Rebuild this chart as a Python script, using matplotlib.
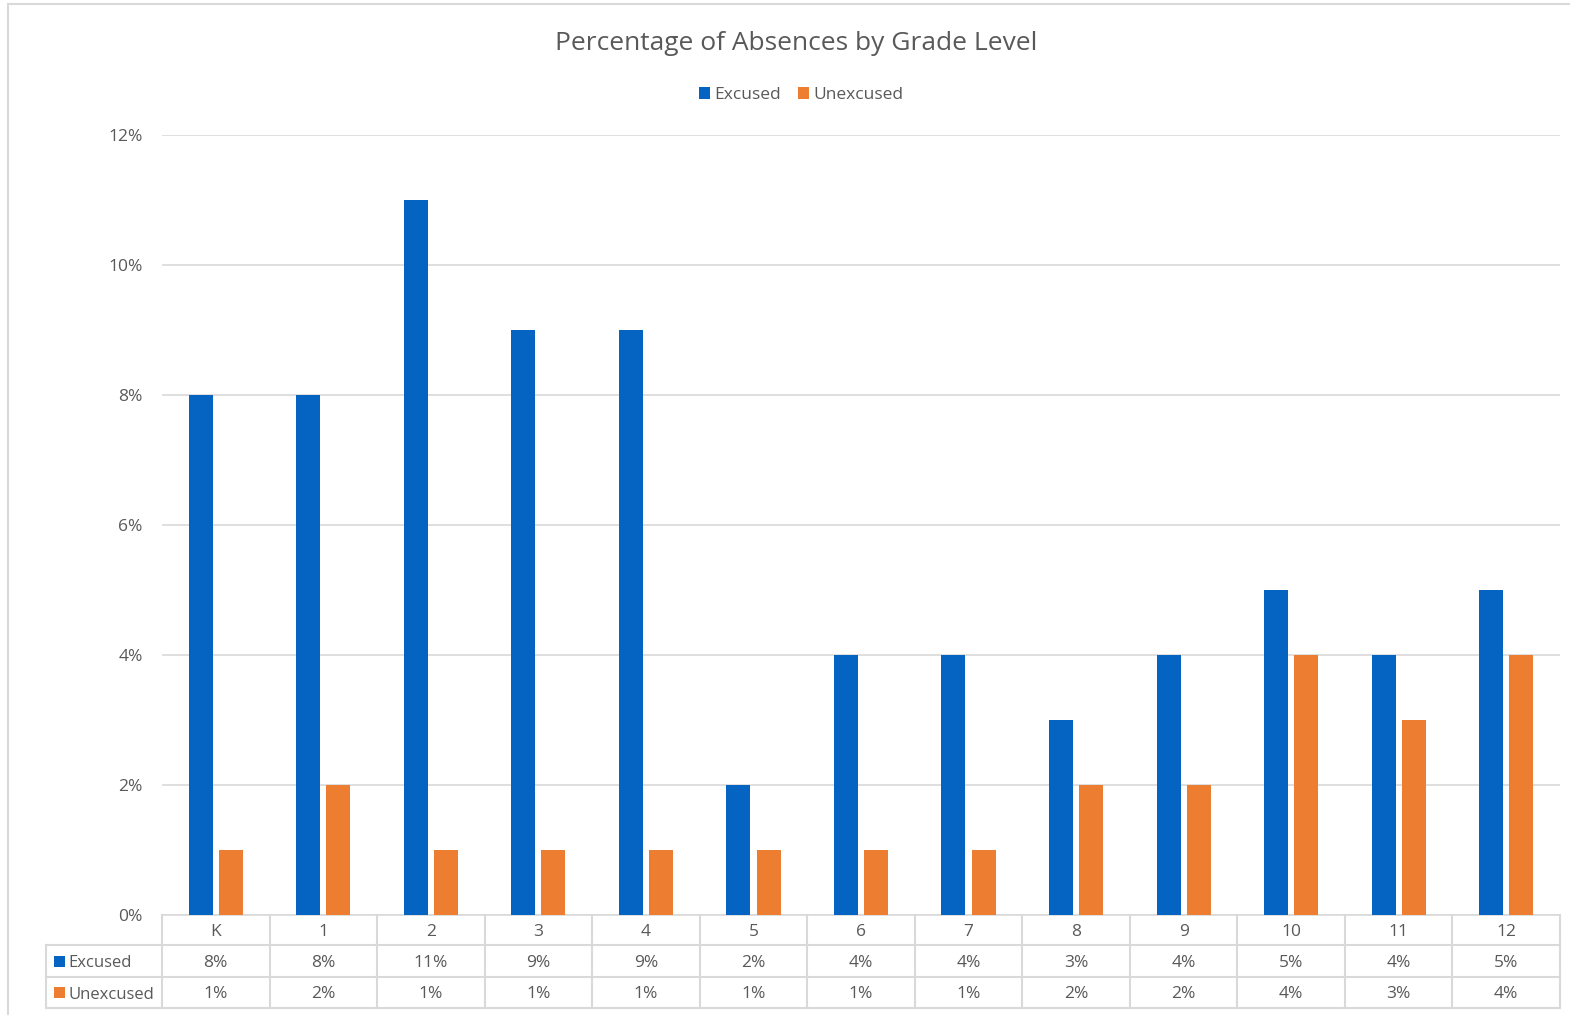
import matplotlib
matplotlib.use("Agg")
import matplotlib.pyplot as plt
import matplotlib.transforms as mtransforms
from matplotlib.patches import Rectangle
import numpy as np

categories = ["K", "1", "2", "3", "4", "5", "6", "7", "8", "9", "10", "11", "12"]
excused = [8, 8, 11, 9, 9, 2, 4, 4, 3, 4, 5, 4, 5]
unexcused = [1, 2, 1, 1, 1, 1, 1, 1, 2, 2, 4, 3, 4]
series_names = ["Excused", "Unexcused"]
yticks = [0, 2, 4, 6, 8, 10, 12]

BLUE = "#0563C1"
ORANGE = "#ED7D31"
GRID = "#D9D9D9"
TXT = "#595959"
FONT = "Open Sans"
plt.rcParams["font.family"] = [FONT, "DejaVu Sans"]

W, H = 1570, 1015
fig = plt.figure(figsize=(W / 100, H / 100), dpi=100)
L, R, T, B = 162, 1560, 135, 915
ax = fig.add_axes([L / W, 1 - B / H, (R - L) / W, (B - T) / H])

x = np.arange(len(categories))
bw = 0.223
off = 0.14
ax.bar(x - off, excused, bw, color=BLUE, zorder=3)
ax.bar(x + off, unexcused, bw, color=ORANGE, zorder=3)

ax.set_xlim(-0.5, len(categories) - 0.5)
ax.set_ylim(0, 12)
ax.set_yticks(yticks)
ax.set_yticklabels([f"{v}%" for v in yticks], color=TXT, fontsize=12.5)
ax.tick_params(axis="y", length=0, pad=14)
ax.set_xticks([])
for s in ["top", "right", "left"]:
    ax.spines[s].set_visible(False)
ax.spines["bottom"].set_color(GRID)
ax.spines["bottom"].set_linewidth(1.2)
ax.yaxis.grid(True, color=GRID, linewidth=1.2, zorder=0)
ax.set_axisbelow(True)

# data table
ph = B - T
r1 = -(945 - B) / ph
r2 = -(977 - B) / ph
r3 = -(1008 - B) / ph
left_col = (46 - L) / (R - L)
trans = mtransforms.blended_transform_factory(ax.transData, ax.transAxes)
ta = ax.transAxes
lk = dict(color=GRID, linewidth=1.5, clip_on=False)
for yy in [r1, r2, r3]:
    ax.plot([left_col, 1], [yy, yy], transform=ta, **lk)
ax.plot([left_col, left_col], [r1, r3], transform=ta, **lk)
for i in range(len(categories) + 1):
    ax.plot([i - 0.5, i - 0.5], [0, r3], transform=trans, **lk)

fs = 12.5
for i, c in enumerate(categories):
    ax.text(i, r1 / 2 - 0.002, c, transform=trans, ha="center", va="center", fontsize=fs, color=TXT)
    ax.text(i, (r1 + r2) / 2 - 0.002, f"{excused[i]}%", transform=trans, ha="center", va="center", fontsize=fs, color=TXT)
    ax.text(i, (r2 + r3) / 2 - 0.002, f"{unexcused[i]}%", transform=trans, ha="center", va="center", fontsize=fs, color=TXT)

sq = 11
for yy0, yy1, name, col in [(r1, r2, series_names[0], BLUE), (r2, r3, series_names[1], ORANGE)]:
    cy = (yy0 + yy1) / 2
    fx = 54 / W
    fy = fig.transFigure.inverted().transform(ta.transform((0, cy)))[1]
    fig.patches.append(Rectangle((fx, fy - sq / 2 / H), sq / W, sq / H, transform=fig.transFigure,
                                 facecolor=col, edgecolor="none"))
    fig.text(68 / W, fy - 0.002, name, ha="left", va="center", fontsize=12, color=TXT)

# title
fig.text(796 / W, 1 - 43 / H, "Percentage of Absences by Grade Level",
         ha="center", va="center", fontsize=19, color=TXT)

# legend
ly = 1 - 93 / H
for name, col, px in [(series_names[0], BLUE, 699), (series_names[1], ORANGE, 798)]:
    fig.patches.append(Rectangle((px / W, ly - sq / 2 / H), sq / W, sq / H, transform=fig.transFigure,
                                 facecolor=col, edgecolor="none"))
    fig.text((px + 15) / W, ly - 0.002, name, ha="left", va="center", fontsize=12.5, color=TXT)

# chart border
fig.patches.append(Rectangle((8 / W, -0.01), 1.0, 1 - 4 / H + 0.01, transform=fig.transFigure,
                             facecolor="none", edgecolor=GRID, linewidth=1.5))

fig.savefig("out.png", dpi=100)
